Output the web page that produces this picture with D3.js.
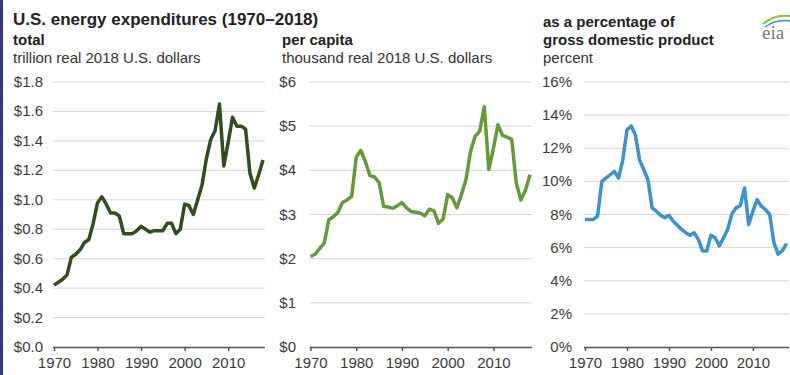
<!DOCTYPE html>
<html>
<head>
<meta charset="utf-8">
<script src="https://cdn.jsdelivr.net/npm/d3@7"></script>
<style>
  html, body { margin: 0; padding: 0; background: #fff; }
  svg { display: block; font-family: "Liberation Sans", Arial, sans-serif; }
</style>
</head>
<body>
<svg id="chart" width="790" height="375"></svg>
<script>
// Years covered by all three panels
const years = [
  1970, 1971, 1972, 1973, 1974, 1975, 1976, 1977, 1978, 1979,
  1980, 1981, 1982, 1983, 1984, 1985, 1986, 1987, 1988, 1989,
  1990, 1991, 1992, 1993, 1994, 1995, 1996, 1997, 1998, 1999,
  2000, 2001, 2002, 2003, 2004, 2005, 2006, 2007, 2008, 2009,
  2010, 2011, 2012, 2013, 2014, 2015, 2016, 2017, 2018
];

// Total expenditures, trillion real 2018 dollars
const totalSpend = [
  0.42, 0.44, 0.46, 0.49, 0.61, 0.63, 0.66, 0.71, 0.73, 0.84,
  0.98, 1.02, 0.97, 0.91, 0.91, 0.89, 0.77, 0.77, 0.77, 0.79,
  0.82, 0.80, 0.78, 0.79, 0.79, 0.79, 0.84, 0.84, 0.77, 0.80,
  0.97, 0.96, 0.90, 1.00, 1.10, 1.28, 1.41, 1.47, 1.65, 1.23,
  1.39, 1.56, 1.50, 1.50, 1.48, 1.18, 1.08, 1.17, 1.27
];

// Per capita expenditures, thousand real 2018 dollars
const perCapita = [
  2.05, 2.10, 2.23, 2.35, 2.88, 2.95, 3.05, 3.27, 3.33, 3.41,
  4.30, 4.45, 4.20, 3.88, 3.85, 3.72, 3.18, 3.17, 3.14, 3.20,
  3.27, 3.15, 3.07, 3.05, 3.03, 2.97, 3.12, 3.08, 2.80, 2.90,
  3.45, 3.38, 3.15, 3.45, 3.79, 4.43, 4.77, 4.89, 5.44, 4.02,
  4.50, 5.03, 4.79, 4.75, 4.70, 3.71, 3.33, 3.55, 3.90
];

// Expenditures as a share of GDP, percent
const gdpShare = [
  7.7, 7.7, 7.7, 7.9, 10.0, 10.2, 10.4, 10.6, 10.2, 11.3,
  13.1, 13.35, 12.8, 11.3, 10.7, 10.1, 8.4, 8.2, 7.95, 7.8,
  7.95, 7.6, 7.35, 7.1, 6.9, 6.75, 6.9, 6.5, 5.8, 5.8,
  6.75, 6.6, 6.1, 6.6, 7.1, 8.05, 8.4, 8.55, 9.6, 7.4,
  8.2, 8.9, 8.5, 8.3, 8.0, 6.3, 5.6, 5.8, 6.25
];

const xTicks = [1970, 1980, 1990, 2000, 2010];
const totalTicks = [0, 0.2, 0.4, 0.6, 0.8, 1.0, 1.2, 1.4, 1.6, 1.8];
const perCapitaTicks = [0, 1, 2, 3, 4, 5, 6];
const gdpTicks = [0, 2, 4, 6, 8, 10, 12, 14, 16];

const titleText = "U.S. energy expenditures (1970\u20132018)";

const svg = d3.select("#chart");

// thin navy frame edge on the left
svg.append("rect").attr("x", 0).attr("y", 0).attr("width", 3).attr("height", 375)
  .attr("fill", "#2d3c78");

svg.append("text")
  .attr("x", 13).attr("y", 25)
  .attr("font-size", 17).attr("font-weight", "bold").attr("fill", "#222")
  .text(titleText);

const yBottom = 347, yTop = 82;

const panels = [
  {
    heads: [{ t: "total", bold: true }, { t: "trillion real 2018 U.S. dollars" }],
    headX: 13, headY: [45, 63],
    x0: 54, x1: 263, gridEnd: 265, labelRight: 43,
    values: totalSpend, ticks: totalTicks, max: 1.8,
    fmt: v => "$" + v.toFixed(1), color: "#314d1d"
  },
  {
    heads: [{ t: "per capita", bold: true }, { t: "thousand real 2018 U.S. dollars" }],
    headX: 282, headY: [45, 63],
    x0: 310.5, x1: 530, gridEnd: 532, labelRight: 296,
    values: perCapita, ticks: perCapitaTicks, max: 6,
    fmt: v => "$" + v, color: "#649a38"
  },
  {
    heads: [{ t: "as a percentage of", bold: true }, { t: "gross domestic product", bold: true }, { t: "percent" }],
    headX: 543, headY: [27, 45, 63],
    x0: 585, x1: 786.5, gridEnd: 789, labelRight: 572,
    values: gdpShare, ticks: gdpTicks, max: 16,
    fmt: v => v + "%", color: "#3b92d3"
  }
];

panels.forEach(p => {
  const g = svg.append("g");

  p.heads.forEach((h, i) => {
    g.append("text")
      .attr("x", p.headX).attr("y", p.headY[i])
      .attr("font-size", 15)
      .attr("font-weight", h.bold ? "bold" : "normal")
      .attr("fill", h.bold ? "#222" : "#333")
      .text(h.t);
  });

  const x = d3.scaleLinear().domain([1970, 2018]).range([p.x0, p.x1]);
  const y = d3.scaleLinear().domain([0, p.max]).range([yBottom, yTop]);

  // horizontal gridlines
  g.append("g").selectAll("line")
    .data(p.ticks.filter(t => t > 0))
    .join("line")
    .attr("x1", p.x0 - 1).attr("x2", p.gridEnd)
    .attr("y1", d => y(d)).attr("y2", d => y(d))
    .attr("stroke", "#d6d6d6").attr("stroke-width", 1);

  // y tick labels
  g.append("g").selectAll("text")
    .data(p.ticks)
    .join("text")
    .attr("x", p.labelRight)
    .attr("y", d => y(d) + 5)
    .attr("text-anchor", "end")
    .attr("font-size", 15).attr("fill", "#3a3a3a")
    .text(p.fmt);

  // x axis
  const xAxis = d3.axisBottom(x).tickValues(xTicks).tickSize(4).tickSizeOuter(0).tickFormat(d3.format("d"));
  const ax = g.append("g").attr("transform", `translate(0,${yBottom})`).call(xAxis);
  ax.select(".domain").attr("stroke", "#555").attr("stroke-width", 1.5)
    .attr("d", `M${p.x0 - 1},0.5H${p.gridEnd}`);
  ax.selectAll(".tick line").attr("stroke", "#555").attr("stroke-width", 1.5);
  ax.selectAll(".tick text")
    .attr("font-family", "Liberation Sans, Arial, sans-serif")
    .attr("font-size", 15).attr("fill", "#3a3a3a").attr("dy", "0.9em");

  // series line
  const line = d3.line().x((d, i) => x(years[i])).y(d => y(d));
  g.append("path")
    .datum(p.values)
    .attr("d", line)
    .attr("fill", "none")
    .attr("stroke", p.color)
    .attr("stroke-width", 3.5)
    .attr("stroke-linejoin", "round");
});

// agency mark in the top-right corner
const logo = svg.append("g").attr("transform", "translate(760,0)");
logo.append("path").attr("d", "M3,24 Q14,14 30,16").attr("fill", "none")
  .attr("stroke", "#8cc63f").attr("stroke-width", 2);
logo.append("path").attr("d", "M5,27 Q16,19 30,21").attr("fill", "none")
  .attr("stroke", "#2a8fd0").attr("stroke-width", 1.5);
logo.append("text").attr("x", 2).attr("y", 39)
  .attr("font-family", "Liberation Serif, DejaVu Serif, serif")
  .attr("font-size", 19).attr("fill", "#7a7a7a").text("eia");
</script>
</body>
</html>
